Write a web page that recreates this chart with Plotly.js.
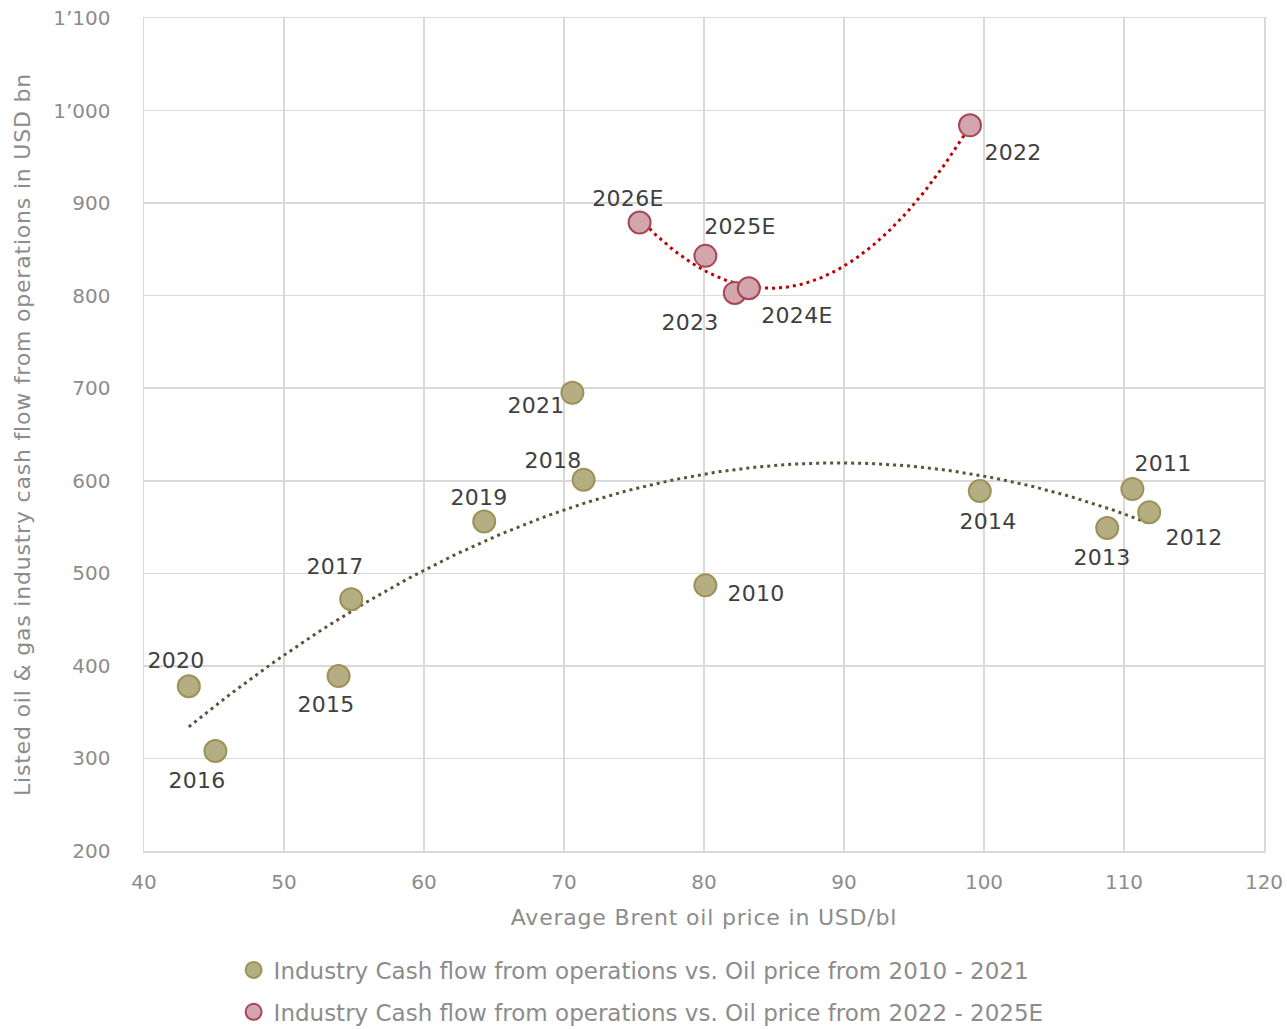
<!DOCTYPE html>
<html><head><meta charset="utf-8">
<script src="https://cdn.plot.ly/plotly-3.0.1.min.js"></script>
<style>html,body{margin:0;padding:0;background:#fff;}#chart{width:1287px;height:1029px;}
#chart .xtitle, #chart .ytitle{letter-spacing:0.8px;}
#chart .annotation-text{letter-spacing:0.3px;}
</style>
</head><body><div id="chart"></div>
<script>
// ---- data ----
const years1 = ['2010','2011','2012','2013','2014','2015','2016','2017','2018','2019','2020','2021'];
const price1 = [80.1, 110.6, 111.8, 108.8, 99.7, 53.9, 45.1, 54.8, 71.4, 64.3, 43.2, 70.6];
const cash1  = [487, 591, 566, 549, 589, 389, 308, 472, 601, 556, 378, 695];
const years2 = ['2022','2023','2024E','2025E','2026E'];
const price2 = [99.0, 82.2, 83.2, 80.1, 75.4];
const cash2  = [984, 803, 808, 843, 879];
const seriesNames = ['Industry Cash flow from operations vs. Oil price from 2010 - 2021',
                     'Industry Cash flow from operations vs. Oil price from 2022 - 2025E'];
const xTickVals = [40, 50, 60, 70, 80, 90, 100, 110, 120];
const yTickVals = [200, 300, 400, 500, 600, 700, 800, 900, 1000, 1100];
const yTickText = ['200','300','400','500','600','700','800','900','1\u2019000','1\u2019100'];
const xTitle = 'Average Brent oil price in USD/bl';
const yTitle = 'Listed oil & gas industry cash flow from operations in USD bn';

// ---- label placement (pixel offsets, style only) ----
const off1 = [[51,8],[31,-26],[45,25],[-5,30],[8,31],[-13,28],[-18,29],[-16,-33],[-31,-19],[-5,-24],[-13,-26],[-36,13]];
const off2 = [[43,27],[-45,30],[48,27],[35,-29],[-12,-24]];

// ---- least squares quadratic trendline (Excel-style poly 2) ----
function quadFit(xs, ys) {
  let n = xs.length, s1=0,s2=0,s3=0,s4=0,t0=0,t1=0,t2=0;
  for (let i=0;i<n;i++){const x=xs[i],y=ys[i];s1+=x;s2+=x*x;s3+=x*x*x;s4+=x*x*x*x;t0+=y;t1+=x*y;t2+=x*x*y;}
  const M=[[n,s1,s2],[s1,s2,s3],[s2,s3,s4]], v=[t0,t1,t2];
  const det=m=>m[0][0]*(m[1][1]*m[2][2]-m[1][2]*m[2][1])-m[0][1]*(m[1][0]*m[2][2]-m[1][2]*m[2][0])+m[0][2]*(m[1][0]*m[2][1]-m[1][1]*m[2][0]);
  const D=det(M), c=[];
  for(let k=0;k<3;k++){const Mk=M.map((r,i)=>r.map((e,j)=>j===k?v[i]:e));c.push(det(Mk)/D);}
  return c;
}
function trend(xs, ys) {
  const c = quadFit(xs, ys);
  const lo = Math.min(...xs), hi = Math.max(...xs), N = 150;
  const tx = [], ty = [];
  for (let i=0;i<=N;i++){const x=lo+(hi-lo)*i/N;tx.push(x);ty.push(c[0]+c[1]*x+c[2]*x*x);}
  return {tx, ty};
}
const t1 = trend(price1, cash1), t2 = trend(price2, cash2);

const FONT = 'DejaVu Sans';
const traces = [
  {x: t1.tx, y: t1.ty, mode:'lines', line:{color:'#5b5237', width:3, dash:'3px,4px'}, showlegend:false, hoverinfo:'skip'},
  {x: t2.tx, y: t2.ty, mode:'lines', line:{color:'#c00000', width:3, dash:'3px,4px'}, showlegend:false, hoverinfo:'skip'},
  {x: price1, y: cash1, mode:'markers', name: seriesNames[0], legendgroup:'a',
   marker:{size:22, color:'#b6ae83', line:{color:'#9d925a', width:2}}},
  {x: price2, y: cash2, mode:'markers', name: seriesNames[1], legendgroup:'b',
   marker:{size:22, color:'#d3a5ac', line:{color:'#a8475a', width:2}}}
];

const annotations = [];
years1.forEach((t,i)=>annotations.push({x:price1[i], y:cash1[i], text:t, showarrow:false, xshift:off1[i][0], yshift:-off1[i][1]}));
years2.forEach((t,i)=>annotations.push({x:price2[i], y:cash2[i], text:t, showarrow:false, xshift:off2[i][0], yshift:-off2[i][1]}));
annotations.forEach(a=>{a.font={family:FONT, size:22, color:'#404040'};});

const layout = {
  width:1287, height:1029,
  margin:{l:144, r:23, t:18, b:178, autoexpand:false},
  paper_bgcolor:'#fff', plot_bgcolor:'#fff',
  font:{family:FONT, color:'#8c8c8c', size:20},
  showlegend:true,
  xaxis:{range:[40,120], tickvals:xTickVals, showgrid:true, gridcolor:'#d9d9d9', gridwidth:1.5,
         showline:true, linecolor:'#d9d9d9', linewidth:1.5, mirror:true, zeroline:false, automargin:false,
         ticks:'', ticklabelstandoff:12, tickfont:{family:FONT, size:20, color:'#8c8c8c'},
         title:{text:xTitle, font:{family:FONT, size:22, color:'#8c8c8c'}, standoff:17}},
  yaxis:{range:[200,1100], tickvals:yTickVals, ticktext:yTickText, showgrid:true, gridcolor:'#d9d9d9', gridwidth:1.5,
         showline:true, linecolor:'#d9d9d9', linewidth:1.5, mirror:true, zeroline:false, automargin:false,
         ticks:'', ticklabelstandoff:28, tickfont:{family:FONT, size:20, color:'#8c8c8c'},
         title:{text:yTitle, font:{family:FONT, size:22, color:'#8c8c8c'}, standoff:16}},
  legend:{orientation:'v', x:0.08, xanchor:'left', y:-0.117, yanchor:'top', tracegroupgap:9,
          font:{family:FONT, size:23, color:'#8c8c8c'}, bgcolor:'rgba(0,0,0,0)'},
  annotations: annotations
};

Plotly.newPlot('chart', traces, layout, {displayModeBar:false, staticPlot:true});
</script></body></html>
